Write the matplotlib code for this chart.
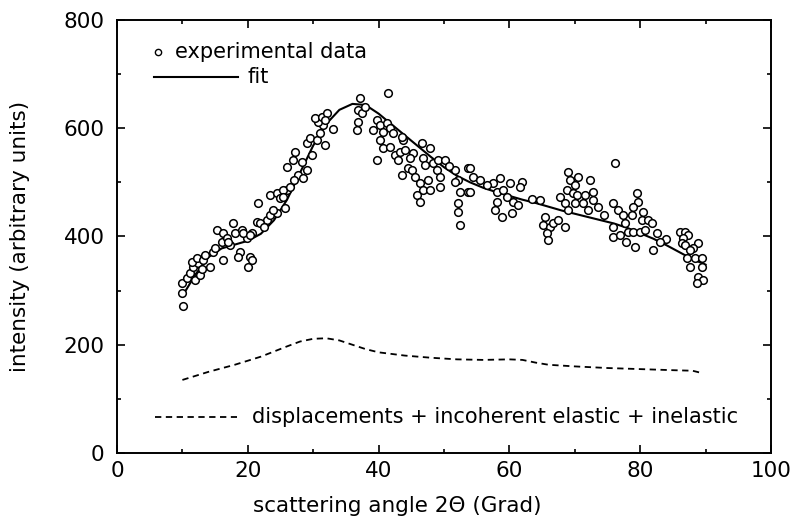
import matplotlib
matplotlib.use("Agg")
import matplotlib.pyplot as plt
from matplotlib.ticker import MultipleLocator

# experimental data (scattering angle, intensity)
exp_x = [10.1, 10.0, 9.9, 10.7, 11.2, 11.9, 12.7, 11.6, 12.4, 11.5, 12.2, 13.2, 14.2, 13.5, 14.7, 16.2,
         15.3, 16.2, 16.0, 16.8, 17.8, 18.0, 19.1, 17.3, 18.8, 18.5, 20.3, 20.0, 20.6, 19.9, 20.6, 21.4,
         21.6, 22.9, 23.4, 23.4, 24.5, 24.9, 26.0, 25.7, 24.5, 19.3, 20.3, 21.9, 23.9, 25.4, 25.4, 26.5,
         26.0, 26.9, 27.2, 28.3, 27.7, 28.4, 29.0, 29.0, 29.5, 29.8, 30.6, 31.0, 31.8, 31.5, 30.7, 30.3,
         31.3, 32.1, 31.8, 36.9, 36.9, 36.7, 37.2, 37.5, 37.9, 41.4, 39.1, 39.8, 40.2, 40.7, 41.3, 41.7,
         42.2, 40.2, 40.7, 41.7, 39.8, 42.5, 43.3, 43.0, 43.7, 44.0, 43.6, 44.5, 43.6, 45.1, 45.3, 46.6,
         45.6, 46.3, 46.8, 45.9, 46.3, 47.6, 47.9, 47.9, 46.8, 47.1, 48.3, 49.1, 50.2, 48.9, 49.4, 49.4,
         51.7, 52.1, 53.7, 53.7, 52.1, 52.4, 52.1, 54.0, 54.4, 51.7, 52.4, 54.0, 57.5, 58.6, 58.1, 59.0,
         60.1, 61.9, 61.6, 59.6, 58.1, 60.6, 61.3, 57.8, 58.9, 60.4, 64.7, 65.4, 65.1, 66.2, 65.7, 65.9,
         66.7, 67.4, 68.5, 69.0, 67.7, 68.8, 69.3, 69.7, 70.0, 68.5, 69.0, 70.5, 72.3, 70.0, 70.3, 71.6,
         72.8, 72.8, 71.3, 72.0, 79.5, 79.7, 75.8, 76.6, 77.4, 78.7, 78.9, 80.4, 80.3, 81.2, 81.8, 77.7,
         78.1, 78.9, 80.0, 80.7, 82.6, 75.8, 76.9, 77.9, 79.2, 82.0, 75.8, 86.1, 86.9, 87.3, 86.5, 86.4,
         86.9, 88.8, 88.1, 87.6, 87.2, 88.4, 89.4, 87.6, 89.4, 88.8, 89.6, 88.7, 76.1, 13.0, 15.0, 17.0,
         22.5, 27.0, 33.0, 44.8, 50.8, 55.5, 56.5, 63.5, 73.5, 74.5, 84.0, 83.0]
exp_y = [272, 296, 314, 323, 332, 320, 329, 344, 351, 353, 360, 357, 344, 366, 372, 357,
         412, 406, 390, 397, 425, 406, 412, 384, 372, 362, 362, 344, 357, 397, 406, 427,
         462, 431, 440, 477, 480, 471, 486, 453, 444, 407, 403, 425, 449, 486, 473, 492,
         529, 542, 556, 538, 514, 508, 523, 573, 582, 551, 578, 591, 569, 606, 612, 619,
         621, 628, 615, 634, 612, 597, 656, 628, 640, 665, 597, 615, 606, 593, 610, 601,
         591, 578, 564, 566, 542, 551, 556, 542, 578, 560, 584, 527, 514, 523, 554, 573,
         510, 499, 486, 477, 464, 505, 486, 564, 545, 532, 536, 542, 542, 523, 510, 492,
         523, 505, 482, 527, 462, 421, 445, 527, 510, 501, 482, 482, 499, 508, 482, 486,
         499, 501, 492, 473, 464, 464, 458, 449, 436, 443, 468, 436, 421, 418, 406, 394,
         425, 431, 418, 519, 473, 486, 505, 480, 462, 462, 449, 510, 505, 495, 477, 477,
         482, 468, 462, 449, 480, 464, 462, 449, 440, 440, 455, 445, 431, 431, 425, 425,
         408, 408, 408, 412, 406, 399, 403, 390, 381, 375, 418, 408, 408, 403, 397, 388,
         384, 388, 379, 375, 360, 360, 360, 344, 344, 325, 320, 314, 536, 340, 378, 390,
         418, 505, 598, 545, 530, 505, 495, 470, 455, 440, 395, 390]

# fit curve
fit_x = [10, 12, 14, 16, 18, 20, 22, 24, 26, 28, 30, 32, 34, 36, 38, 40, 42, 44, 46, 48, 50,
         52, 54, 56, 58, 60, 62, 64, 66, 68, 70, 72, 74, 76, 78, 80, 82, 84, 86, 88, 90]
fit_y = [290, 330, 362, 378, 385, 392, 405, 430, 468, 518, 568, 608, 634, 645, 643, 627, 607, 587,
         567, 547, 528, 512, 500, 490, 482, 475, 468, 462, 455, 448, 442, 436, 430, 424, 416, 406,
         396, 384, 371, 358, 348]

# displacements + incoherent elastic + inelastic
bg_x = [10, 14, 18, 22, 26, 28, 30, 32, 34, 36, 38, 40, 44, 48, 52, 56, 60, 62, 64, 66, 70,
        75, 80, 85, 88, 89]
bg_y = [135, 150, 163, 178, 197, 206, 211, 212, 208, 200, 192, 186, 180, 176, 173, 172, 173,
        172, 167, 163, 160, 157, 155, 153, 152, 149]

x_ticks = [0, 20, 40, 60, 80, 100]
y_ticks = [0, 200, 400, 600, 800]

plt.rcParams['font.family'] = ['DejaVu Sans']
fig = plt.figure(figsize=(7.92, 5.19), dpi=100)
ax = fig.add_axes([117/792, 66/519, 654/792, 433/519])

ax.plot(exp_x, exp_y, linestyle='none', marker='o', markersize=5.5, markerfacecolor='white',
        markeredgecolor='black', markeredgewidth=1.1, zorder=3)
ax.plot(fit_x, fit_y, color='black', linewidth=1.5, zorder=2)
ax.plot(bg_x, bg_y, color='black', linewidth=1.3, linestyle=(0, (3.5, 2.5)), zorder=2)

ax.set_xlim(0, 100)
ax.set_ylim(0, 800)
ax.set_xticks(x_ticks)
ax.set_yticks(y_ticks)
ax.xaxis.set_minor_locator(MultipleLocator(10))
ax.yaxis.set_minor_locator(MultipleLocator(100))
ax.tick_params(which='both', direction='in', top=True, right=True, labelsize=15.5, width=1.2)
ax.tick_params(which='major', length=6)
ax.tick_params(which='minor', length=3)
ax.tick_params(axis='x', pad=6)
ax.tick_params(axis='y', pad=9)
for s in ax.spines.values():
    s.set_linewidth(1.4)

ax.set_xlabel('scattering angle 2\u0398 (Grad)', fontsize=15.5, va='center')
ax.xaxis.set_label_coords(0.428, -0.122)
ax.set_ylabel('intensity (arbitrary units)', fontsize=15.5, va='center')
ax.yaxis.set_label_coords(-0.148, 0.5)

# legend (drawn in data coordinates)
ax.plot([6.2], [741], linestyle='none', marker='o', markersize=4.5, markerfacecolor='white',
        markeredgecolor='black', markeredgewidth=1.0)
ax.text(8.8, 741, 'experimental data', fontsize=15, va='center', ha='left')
ax.plot([5.6, 18.5], [694, 694], color='black', linewidth=1.5)
ax.text(20.0, 694, 'fit', fontsize=15, va='center', ha='left')
ax.plot([5.8, 18.3], [66, 66], color='black', linewidth=1.3, linestyle=(0, (3.5, 2.5)))
ax.text(20.6, 66, 'displacements + incoherent elastic + inelastic', fontsize=15,
        va='center', ha='left')

fig.savefig('out.png', dpi=100)
